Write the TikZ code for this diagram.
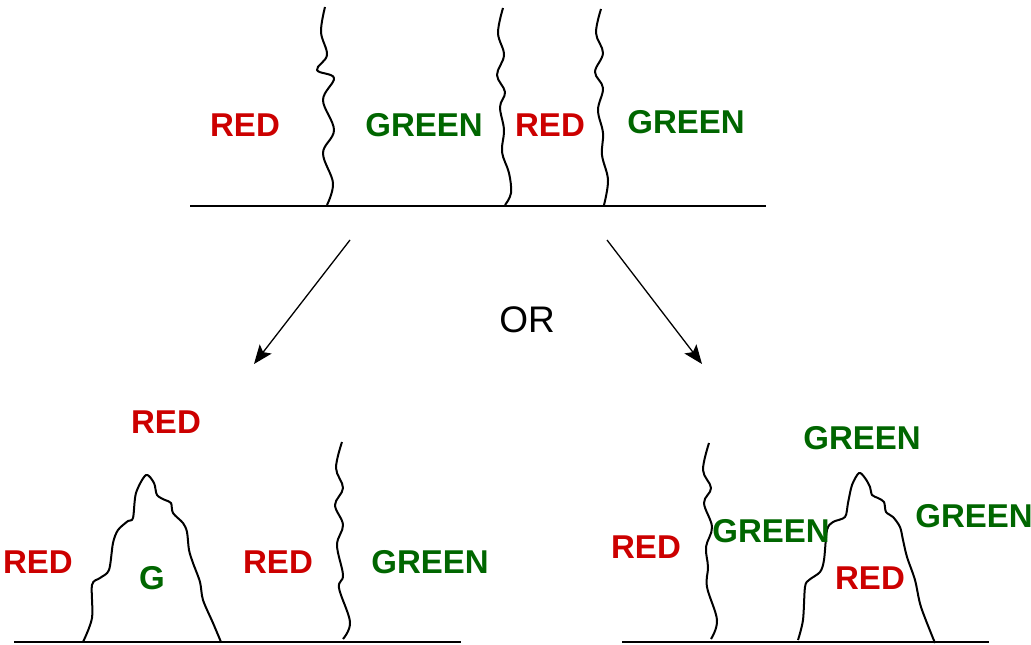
\documentclass[tikz,border=0pt]{standalone}
\usepackage{fontspec}
\setmainfont{Liberation Sans}
\usetikzlibrary{arrows.meta}
\definecolor{redc}{RGB}{204,0,0}
\definecolor{greenc}{RGB}{0,102,0}
\tikzset{
  lbl/.style={inner sep=0pt, anchor=center, font=\fontsize{33}{33}\selectfont\bfseries},
  redlbl/.style={lbl, text=redc},
  greenlbl/.style={lbl, text=greenc},
  ground/.style={line width=2.6pt},
  wave/.style={line width=2pt, line join=round},
  branch/.style={line width=1.3pt, -{Stealth[length=19pt,width=15pt,inset=4pt]}}
}
\begin{document}
\begin{tikzpicture}[x=1pt,y=-1pt]
\useasboundingbox (0,0) rectangle (1031,645);

% top strand with its three wavy boundaries
\draw[ground] (190,206) -- (766,206);
\draw[wave] plot[smooth,tension=0.6] coordinates {(325,7) (321,32) (327,55) (317,70) (334,78) (323,100) (334,130) (323,153) (333,183) (327,205)};
\draw[wave] plot[smooth,tension=0.6] coordinates {(503,8) (498,33) (504,55) (497,75) (505,92) (500,107) (504,130) (502,152) (509,173) (511,193) (505,205)};
\draw[wave] plot[smooth,tension=0.6] coordinates {(601,9) (596,33) (603,53) (595,72) (603,88) (598,110) (603,133) (602,155) (608,180) (604,205)};

\node[redlbl]   (t1) at (245,125) {RED};
\node[greenlbl] (t2) at (424,125) {GREEN};
\node[redlbl]   (t3) at (550,125) {RED};
\node[greenlbl] (t4) at (686,122) {GREEN};

% the two outcomes
\coordinate (la) at (350,240);
\coordinate (lb) at (254,364);
\coordinate (ra) at (607,240);
\coordinate (rb) at (702,364);
\draw[branch] (la) -- (lb);
\draw[branch] (ra) -- (rb);
\node[inner sep=0pt, font=\fontsize{37}{37}\selectfont] (or) at (527,320) {OR};

% left outcome
\draw[ground] (14,642) -- (461,642);
\draw[wave] plot[smooth,tension=0.5] coordinates {(83,642) (92,618) (92,585) (100,578) (109,570) (113,543) (118,530) (128,521) (133,518) (136,493) (146,475) (154,483) (157,495) (165,500) (171,503) (173,513) (183,523) (187,532) (189,550) (193,563) (200,582) (203,600) (213,623) (221,642)};
\draw[wave] plot[smooth,tension=0.6] coordinates {(342,442) (336,468) (343,488) (335,505) (343,525) (337,545) (343,575) (339,588) (350,622) (343,639)};

\node[redlbl]   (l1) at (166,422) {RED};
\node[redlbl]   (l2) at (38,562) {RED};
\node[greenlbl] (l3) at (152,578) {G};
\node[redlbl]   (l4) at (278,562) {RED};
\node[greenlbl] (l5) at (430,562) {GREEN};

% right outcome
\draw[ground] (622,642) -- (989,642);
\draw[wave] plot[smooth,tension=0.6] coordinates {(709,443) (703,470) (711,488) (704,503) (712,527) (706,547) (708,567) (707,587) (717,620) (711,639)};
\draw[wave] plot[smooth,tension=0.5] coordinates {(798,640) (803,620) (805,587) (809,580) (820,572) (824,560) (827,530) (833,522) (845,517) (848,503) (852,485) (859,473) (865,478) (870,487) (872,495) (878,498) (884,502) (886,512) (893,517) (900,527) (903,540) (907,557) (915,580) (921,607) (935,643)};

\node[greenlbl] (r1) at (862,438) {GREEN};
\node[redlbl]   (r2) at (646,547) {RED};
\node[greenlbl] (r3) at (771,531) {GREEN};
\node[greenlbl] (r4) at (974,516) {GREEN};
\node[redlbl]   (r5) at (870,578) {RED};
\end{tikzpicture}
\end{document}
